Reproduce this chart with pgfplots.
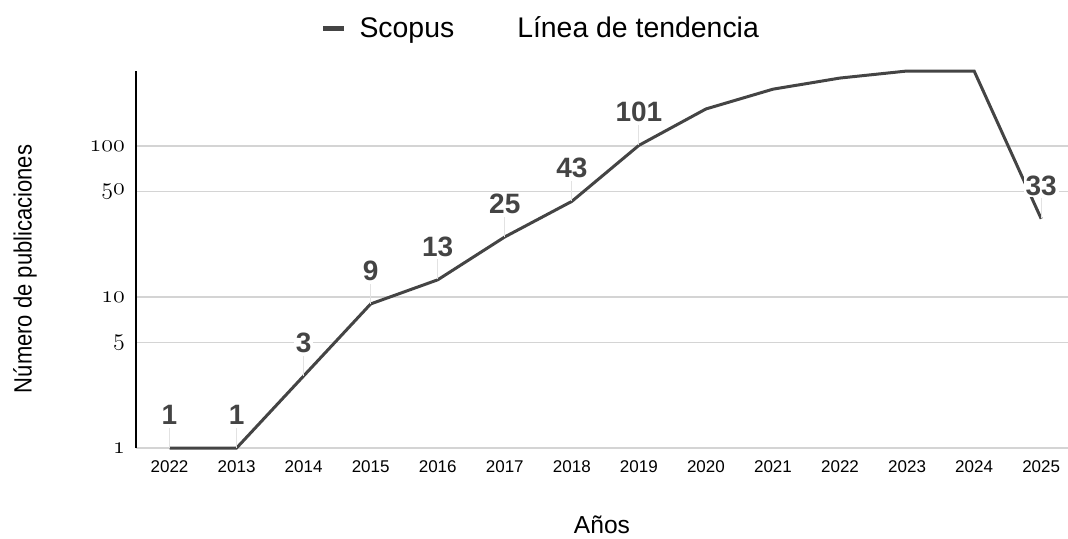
\documentclass[border=0pt]{standalone}
\usepackage{fontspec}
\setmainfont{Liberation Sans}
\usepackage{graphicx}
\usepackage{pgfplots}
\pgfplotsset{compat=1.18}
\definecolor{linegray}{HTML}{444444}
\definecolor{gridgray}{HTML}{D4D4D4}
\definecolor{leadgray}{HTML}{E2E2E2}
\definecolor{labgray}{HTML}{444444}
\newcommand{\osn}[1]{{\usefont{OML}{cmm}{m}{it}#1}}
\begin{document}
\begin{tikzpicture}
\begin{semilogyaxis}[
  scale only axis, width=466pt, height=188.5pt,
  xmin=-0.5, xmax=13.4, ymin=1, ymax=314,
  clip=false,
  axis lines=left, axis line style={-},
  x axis line style={draw=none},
  y axis line style={black, line width=1pt},
  xtick={0,...,13},
  xticklabels={2022,2013,2014,2015,2016,2017,2018,2019,2020,2021,2022,2023,2024,2025},
  ytick={1,5,10,50,100},
  yticklabels={\osn{1},\osn{5},\osn{10},\osn{50},\osn{100}},
  minor ytick={}, 
  major tick length=0pt, minor tick length=0pt,
  ymajorgrids, major grid style={gridgray, line width=0.75pt},
  xticklabel style={font=\fontsize{8.5}{10}\selectfont, yshift=-3pt},
  yticklabel style={font=\fontsize{11.5}{13}\selectfont, xshift=-2pt},
  xlabel={Años},
  xlabel style={at={(axis description cs:0.5,0)}, anchor=center, yshift=-38.5pt, font=\fontsize{12.3}{14}\selectfont},
  ylabel={\scalebox{0.88}[1]{Número de publicaciones}},
  ylabel style={at={(axis description cs:-0.119,0.475)}, anchor=center, font=\fontsize{12.5}{14}\selectfont},
  legend style={at={(0.4353,1.112)}, anchor=center, draw=none, fill=none,
    font=\fontsize{14.2}{17}\selectfont,
    /tikz/every even column/.append style={column sep=27.5pt}},
  legend columns=2,
]
% Scopus publications per year (2023 and 2024 run beyond the top of the axis; drawn at the top as in the reference)
\addplot[linegray, line width=1.5pt, mark=none,
  legend image code/.code={\draw[line width=2.5pt, linegray] (0pt,0pt) -- (10.5pt,0pt); \path (15.5pt,0pt);}]
  coordinates {(0,1) (1,1) (2,3) (3,9) (4,13) (5,25) (6,43) (7,101) (8,176) (9,238) (10,282) (11,314) (12,314) (13,33)};
\addlegendentry{Scopus}
\addlegendimage{empty legend}
\addlegendentry{Línea de tendencia}
% leader lines
\addplot[draw=none, forget plot, point meta=explicit symbolic,
  nodes near coords={\textcolor{leadgray}{\rule{0.6pt}{10pt}}},
  every node near coord/.style={anchor=south, inner sep=0pt}]
  coordinates {(0,1)[1] (1,1)[1] (2,3)[3] (3,9)[9] (4,13)[13] (5,25)[25] (6,43)[43] (7,101)[101] (13,33)[33]};
% value labels
\addplot[draw=none, forget plot, point meta=explicit symbolic,
  nodes near coords,
  every node near coord/.style={anchor=south, yshift=10.5pt, inner sep=1pt, fill=white,
    font=\fontsize{14}{16}\selectfont\bfseries, text=labgray}]
  coordinates {(0,1)[1] (1,1)[1] (2,3)[3] (3,9)[9] (4,13)[13] (5,25)[25] (6,43)[43] (7,101)[101] (13,33)[33]};
\end{semilogyaxis}
\pgfresetboundingbox
\path (current axis.south west) ++(-68pt,-45pt) coordinate (bbl);
\path (current axis.north east) ++(0pt,35.5pt) coordinate (btr);
\useasboundingbox (bbl) rectangle (btr);
\end{tikzpicture}
\end{document}
